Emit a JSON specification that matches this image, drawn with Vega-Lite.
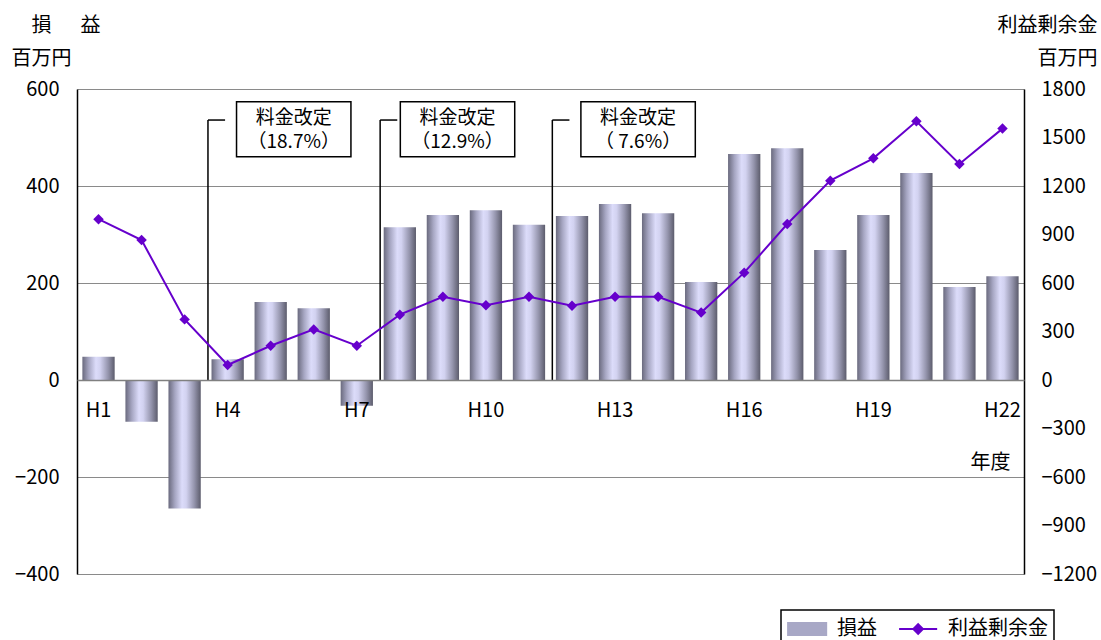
{
  "$schema": "https://vega.github.io/schema/vega-lite/v6.json",
  "width": 947,
  "height": 485,
  "autosize": {"type": "none"},
  "padding": {"left": 77, "top": 89, "right": 77, "bottom": 66},
  "config": {
    "view": {"stroke": null},
    "font": "Noto Sans CJK JP",
    "axis": {"labelFont": "Noto Sans CJK JP", "titleFont": "Noto Sans CJK JP", "labelColor": "black", "titleColor": "black"},
    "legend": {"strokeColor": "black", "strokeWidth": 1.5, "fillColor": "white"}
  },
  "data": {
    "values": [
      {"year": "H1", "profit": 48, "surplus": 995},
      {"year": "H2", "profit": -86, "surplus": 866},
      {"year": "H3", "profit": -265, "surplus": 375},
      {"year": "H4", "profit": 43, "surplus": 93},
      {"year": "H5", "profit": 161, "surplus": 212},
      {"year": "H6", "profit": 148, "surplus": 313},
      {"year": "H7", "profit": -53, "surplus": 212},
      {"year": "H8", "profit": 315, "surplus": 404},
      {"year": "H9", "profit": 340, "surplus": 515},
      {"year": "H10", "profit": 350, "surplus": 462},
      {"year": "H11", "profit": 320, "surplus": 515},
      {"year": "H12", "profit": 338, "surplus": 460},
      {"year": "H13", "profit": 363, "surplus": 515},
      {"year": "H14", "profit": 344, "surplus": 515},
      {"year": "H15", "profit": 202, "surplus": 417},
      {"year": "H16", "profit": 466, "surplus": 664},
      {"year": "H17", "profit": 478, "surplus": 965},
      {"year": "H18", "profit": 268, "surplus": 1233},
      {"year": "H19", "profit": 340, "surplus": 1371},
      {"year": "H20", "profit": 427, "surplus": 1600},
      {"year": "H21", "profit": 192, "surplus": 1336},
      {"year": "H22", "profit": 214, "surplus": 1555}
    ]
  },
  "layer": [
    {
      "layer": [
        {
          "mark": {
            "type": "bar",
            "fill": {"gradient": "linear", "x1": 0, "y1": 0, "x2": 1, "y2": 0, "stops": [
              {"offset": 0, "color": "#6a6a7e"},
              {"offset": 0.2, "color": "#a6a6c2"},
              {"offset": 0.42, "color": "#dcdcfa"},
              {"offset": 0.55, "color": "#d2d2f0"},
              {"offset": 0.8, "color": "#9494ac"},
              {"offset": 1, "color": "#5c5c6c"}
            ]}
          },
          "encoding": {
            "x": {
              "field": "year", "type": "nominal",
              "scale": {"domain": ["H1","H2","H3","H4","H5","H6","H7","H8","H9","H10","H11","H12","H13","H14","H15","H16","H17","H18","H19","H20","H21","H22"], "paddingInner": 0.25, "paddingOuter": 0.125},
              "axis": {
                "orient": "bottom", "values": ["H1","H4","H7","H10","H13","H16","H19","H22"],
                "offset": -194, "domain": true, "domainColor": "#808080", "domainWidth": 1.5,
                "ticks": false, "grid": false, "labelAngle": 0, "labelPadding": 20, "labelFontSize": 20,
                "zindex": 1,
                "title": "年度", "titleFontSize": 20, "titleFontWeight": "normal",
                "titleX": 933, "titleY": 82, "titleAlign": "right", "titleBaseline": "middle", "titleAngle": 0
              }
            },
            "y": {
              "field": "profit", "type": "quantitative",
              "scale": {"domain": [-400, 600], "nice": false, "zero": false},
              "axis": {
                "orient": "left", "values": [-400, -200, 0, 200, 400, 600], "format": "d",
                "grid": true, "gridColor": "#8a8a8a", "gridWidth": 1,
                "domain": true, "domainColor": "black", "domainWidth": 1.5,
                "ticks": false, "labelPadding": 18, "labelFontSize": 20,
                "title": ["\u200b　損 　 益", "百万円"], "titleAngle": 0, "titleAlign": "left",
                "titleBaseline": "alphabetic", "titleX": -66, "titleY": -58,
                "titleFontSize": 20, "titleFontWeight": "normal", "titleLineHeight": 33
              }
            }
          }
        },
        {
          "data": {"values": [
            {"revYear": "H4", "boxYear": "H6", "grp": "a", "label": "料金改定\n（18.7%）"},
            {"revYear": "H8", "boxYear": "H10", "grp": "b", "label": "料金改定\n（12.9%）"},
            {"revYear": "H12", "boxYear": "H14", "grp": "a", "label": "料金改定\n（ 7.6%）"}
          ]},
          "layer": [
            {
              "mark": {"type": "rule", "color": "black", "strokeWidth": 1.5},
              "encoding": {
                "x": {"field": "revYear", "type": "nominal", "bandPosition": -0.11},
                "y": {"datum": 536, "type": "quantitative"},
                "y2": {"datum": 0}
              }
            },
            {
              "mark": {"type": "rule", "color": "black", "strokeWidth": 1.5},
              "encoding": {
                "x": {"field": "revYear", "type": "nominal", "bandPosition": -0.11},
                "x2": {"field": "revYear", "bandPosition": 0.42},
                "y": {"datum": 536, "type": "quantitative"}
              }
            },
            {
              "transform": [{"filter": "datum.grp === 'a'"}],
              "mark": {"type": "point", "shape": "M-2.08,-1H2.08V1H-2.08Z", "size": 3025, "filled": true, "fill": "white", "stroke": "black", "strokeWidth": 1.5, "opacity": 1},
              "encoding": {
                "x": {"field": "boxYear", "type": "nominal", "bandPosition": -0.12},
                "y": {"datum": 517, "type": "quantitative"}
              }
            },
            {
              "transform": [{"filter": "datum.grp === 'b'"}],
              "mark": {"type": "point", "shape": "M-2.08,-1H2.08V1H-2.08Z", "size": 3025, "filled": true, "fill": "white", "stroke": "black", "strokeWidth": 1.5, "opacity": 1},
              "encoding": {
                "x": {"field": "boxYear", "type": "nominal", "bandPosition": -0.38},
                "y": {"datum": 517, "type": "quantitative"}
              }
            },
            {
              "transform": [{"filter": "datum.grp === 'a'"}],
              "mark": {"type": "text", "lineBreak": "\n", "fontSize": 19, "lineHeight": 24, "baseline": "middle", "align": "center", "color": "black", "font": "Noto Sans CJK JP"},
              "encoding": {
                "x": {"field": "boxYear", "type": "nominal", "bandPosition": -0.12},
                "y": {"datum": 540, "type": "quantitative"},
                "text": {"field": "label"}
              }
            },
            {
              "transform": [{"filter": "datum.grp === 'b'"}],
              "mark": {"type": "text", "lineBreak": "\n", "fontSize": 19, "lineHeight": 24, "baseline": "middle", "align": "center", "color": "black", "font": "Noto Sans CJK JP"},
              "encoding": {
                "x": {"field": "boxYear", "type": "nominal", "bandPosition": -0.38},
                "y": {"datum": 540, "type": "quantitative"},
                "text": {"field": "label"}
              }
            }
          ]
        }
      ]
    },
    {
      "layer": [
        {
          "mark": {"type": "line", "strokeWidth": 2, "point": {"shape": "diamond", "size": 110, "filled": true, "opacity": 1}},
          "encoding": {
            "x": {"field": "year", "type": "nominal"},
            "y": {
              "field": "surplus", "type": "quantitative",
              "scale": {"domain": [-1200, 1800], "nice": false, "zero": false},
              "axis": {
                "orient": "right", "values": [-1200, -900, -600, -300, 0, 300, 600, 900, 1200, 1500, 1800], "format": "d",
                "grid": false, "domain": true, "domainColor": "black", "domainWidth": 1.5,
                "ticks": false, "labelPadding": 17, "labelFontSize": 20,
                "title": ["利益剰余金", "百万円"], "titleAngle": 0, "titleAlign": "right",
                "titleBaseline": "alphabetic", "titleX": 73, "titleY": -58,
                "titleFontSize": 20, "titleFontWeight": "normal", "titleLineHeight": 33
              }
            },
            "color": {
              "datum": "利益剰余金", "type": "nominal",
              "scale": {"domain": ["損益", "利益剰余金"], "range": ["#a8a8c6", "#6600cc"]},
              "legend": {
                "orient": "none", "legendX": 704, "legendY": 521, "direction": "horizontal", "columns": 2,
                "title": null, "strokeColor": "black", "fillColor": "white", "padding": 6, "cornerRadius": 0,
                "symbolSize": 566, "symbolStrokeWidth": 2, "labelFontSize": 20, "labelFont": "Noto Sans CJK JP",
                "labelColor": "black", "labelOffset": 24, "columnPadding": 18,
                "encode": {
                  "legend": {
                    "update": {
                      "stroke": {"value": "black"},
                      "strokeWidth": {"value": 1.5},
                      "fill": {"value": "white"},
                      "width": {"value": 270},
                      "height": {"value": 38}
                    }
                  },
                  "symbols": {
                    "update": {
                      "shape": [{"test": "datum.value === '損益'", "value": "M-1,-0.5H2.2V0.5H-1Z"}, {"value": "M-1,0H2.2M0.6,-0.4L1,0L0.6,0.4L0.2,0Z"}],
                      "stroke": [{"test": "datum.value === '損益'", "value": "transparent"}, {"value": "#6600cc"}],
                      "strokeWidth": {"value": 2},
                      "opacity": {"value": 1}
                    }
                  }
                }
              }
            }
          }
        }
      ]
    }
  ],
  "resolve": {"scale": {"y": "independent"}}
}
